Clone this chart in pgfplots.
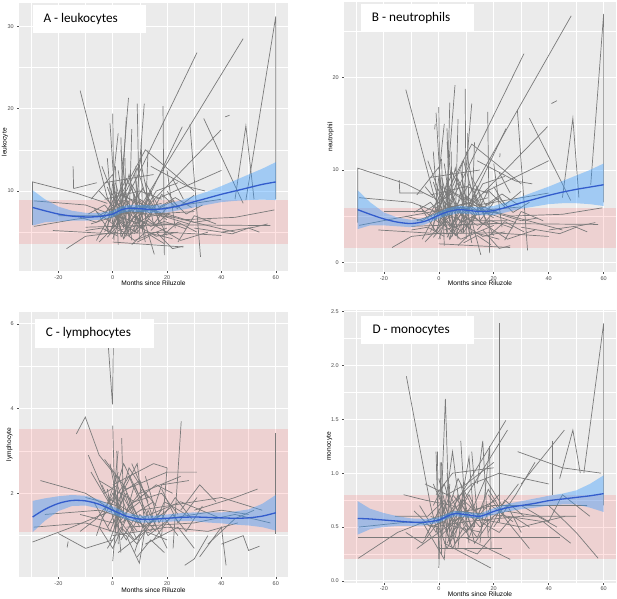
\documentclass[border=0pt]{standalone}
\usepackage{fontspec}
\setmainfont{Liberation Sans}
\newfontfamily\calib{Carlito}
\usepackage{pgfplots}
\pgfplotsset{compat=1.18}
\usepackage{pgfplotstable}

\definecolor{ggbg}{RGB}{235,235,235}
\definecolor{tickgray}{RGB}{77,77,77}
\definecolor{spag}{RGB}{122,122,122}
\definecolor{smblue}{RGB}{51,92,204}
\definecolor{ribblue}{RGB}{51,153,255}

\pgfplotsset{
 ggp/.style={
  scale only axis, anchor=south west,
  xmin=-34.5, xmax=64.5,
  axis background/.style={fill=ggbg},
  axis lines=left, axis line style={draw=none},
  tick align=outside,
  major tick length=2pt,
  minor tick length=0pt,
  major tick style={tickgray, line width=0.5pt},
  grid=both,
  major grid style={white, line width=0.9pt},
  minor grid style={white, line width=0.45pt},
  xtick={-20,0,20,40,60},
  minor xtick={-30,-10,10,30,50},
  tick label style={font=\fontsize{5.5}{6}\selectfont, text=tickgray, inner sep=0pt},
  xticklabel style={anchor=center, yshift=-4.6pt},
  yticklabel style={anchor=east, xshift=-3pt},
  label style={font=\fontsize{6.6}{7}\selectfont},
  xlabel={Months since Riluzole},
  /pgf/number format/assume math mode=true,
 },
 gl/.style={spag, line width=0.7pt, mark=none},
 band/.style={fill=red, fill opacity=0.11, draw=none},
 rib/.style={fill=ribblue, fill opacity=0.4, draw=none},
 fit/.style={smblue, line width=1.3pt, smooth, mark=none},
}

\pgfplotstableread{
x fit
-29.5 8.0
-25 7.6
-20 7.2
-15 6.95
-10 6.85
-5 6.9
0 7.2
3 7.7
6 7.9
10 7.85
15 7.75
20 7.9
25 8.25
30 8.7
35 9.15
40 9.6
45 10.0
50 10.4
55 10.8
60 11.1
}\smA

\pgfplotstableread{
x fit
-29.5 5.7
-25 5.2
-20 4.7
-15 4.35
-10 4.2
-5 4.45
0 5.1
3 5.45
7 5.7
10 5.65
15 5.5
20 5.6
25 6.0
30 6.45
35 6.85
40 7.25
45 7.6
50 7.9
55 8.15
60 8.4
}\smB

\pgfplotstableread{
x fit
-29.5 1.44
-25 1.62
-20 1.76
-15 1.83
-10 1.82
-5 1.74
0 1.60
5 1.46
10 1.39
15 1.39
20 1.41
25 1.43
30 1.44
35 1.43
40 1.42
45 1.41
50 1.42
55 1.46
60 1.54
}\smC

\pgfplotstableread{
x fit
-29.5 0.58
-25 0.575
-20 0.565
-15 0.555
-10 0.545
-5 0.545
0 0.565
3 0.60
6 0.625
10 0.615
15 0.60
20 0.645
25 0.68
30 0.70
35 0.72
40 0.745
45 0.76
50 0.775
55 0.79
60 0.81
}\smD

\newcommand{\pl}[1]{\addplot[gl] coordinates {#1};}

\begin{document}
\begin{tikzpicture}
\fill[white] (0,0) rectangle (617pt,598pt);

% ---------------- A
\begin{axis}[ggp, at={(19pt,327.3pt)}, width=269pt, height=267.7pt,
  ymin=0.32, ymax=32.83, ytick={10,20,30}, minor ytick={5,15,25},
  ylabel={leukocyte},
  xlabel style={at={(axis description cs:0.5,-0.046)},anchor=center},
  ylabel style={at={(axis description cs:-0.052,0.48)},anchor=center}]
\addplot[band] coordinates {(-34.5,3.55) (64.5,3.55) (64.5,8.9) (-34.5,8.9)} -- cycle;
\pl{(-29.5,5.9) (-29.5,11.1) (-13,9.7) (-2,8.5)}
\pl{(-29,5.7) (-15,6.5) (0,7.2) (10,6.0)}
\pl{(-29,8.8) (-10,8.3) (5,6.5)}
\pl{(-17,3.0) (-10,4.5) (2,5)}
\pl{(-12,22.2) (-2,9.2) (3,5.5)}
\pl{(-14.6,13) (-14.4,10.3) (-5.9,11)}
\pl{(-22,5.2) (0,4.8) (20,5.0) (40,4.6)}
\pl{(-10,5.6) (20,5.9) (58,5.8)}
\pl{(-5,3.8) (0,5.5) (5,7)}
\pl{(-1,4.9) (31,26.8)}
\pl{(5,5.3) (48,28.5)}
\pl{(49,8.9) (60,31.2) (60,9)}
\pl{(18.5,20.3) (19,2.2)}
\pl{(9,20.6) (10,4)}
\pl{(11.6,20.6) (8,5)}
\pl{(5.8,21.3) (2,6)}
\pl{(0,19.4) (0.5,4)}
\pl{(-1,18.2) (1,8)}
\pl{(2,17) (-2,5)}
\pl{(5,19) (3,7)}
\pl{(25.6,17.8) (10,7)}
\pl{(28.4,18.1) (32.3,2.0)}
\pl{(33.5,18.8) (48,8.5)}
\pl{(45,9) (49,17.9) (52,9)}
\pl{(39.8,17.4) (8,6.5)}
\pl{(41.4,19) (43,19.2)}
\pl{(-3,11) (15,12)}
\pl{(-6,4) (12,15) (30,10)}
\pl{(14,13) (28,10.5) (34,10)}
\pl{(16,9) (40,12.5)}
\pl{(25,6.5) (45,6.8) (59.5,7.7)}
\pl{(30,5.5) (44,4.8) (50,5.5) (54,5)}
\pl{(40,5) (52,5.6) (57,6)}
\pl{(0,3.8) (26,3.2)}
\pl{(24,3.8) (30,7) (38,6)}
\pl{(12,6) (15.3,2.3)}
\pl{(0,10) (20,7) (45,5)}
\pl{(-3,9) (10,10) (18,9)}
\pl{(2,8) (12,6) (25,6)}
\pl{(-8,6) (6,7.5) (22,6.8)}
\pl{(0,6) (8,4) (20,5.5)}
\pl{(4,9.5) (14,7.2) (30,7.5)}
\pl{(-2,7) (18,8.5)}
\pl{(1,11) (6,5)}
\pl{(8,12) (12,4.5)}
\pl{(-4,13) (4,6)}
\pl{(3,15) (7,4)}
\pl{(10,14) (15,6) (20,8)}
\pl{(12,6.5) (25,4) (35,5)}
\pl{(6,4.5) (16,10) (24,11)}
\pl{(22,11.5) (26,9)}
\pl{(-20,7) (-5,7) (5,9)}
\pl{(-8,9) (0,12) (3,4.5)}
\pl{(0,7) (40,9)}
\pl{(16,5) (22,3) (26,3.3)}
\pl{(-3,5) (2,9) (8,6) (14,7)}
\pl{(0,8.5) (4,4.2) (9,6.8)}
\pl{(-1,6.3) (3,10.5) (7,7)}
\pl{(5,6) (10,9) (18,7) (28,6)}
\pl{(2,5.2) (9,5.8) (16,4.5) (24,5)}
\pl{(-6,7.5) (0,6) (6,8.8)}
\pl{(10,7.3) (14,10) (17,6.2)}
\pl{(7,3.5) (12,5) (22,4.2)}
\pl{(0,4.2) (4,7.8) (12,8.2) (20,6.5)}
\pl{(-2,10.5) (2,6.8) (6,5)}
\pl{(14,5.2) (20,7.2) (30,6.2) (36,6.5)}
\pl{(3,8) (6,12) (9,7.5)}
\pl{(20,10) (24,8) (30,9.5)}
\pl{(-10,5.2) (-4,5.5) (2,4.5)}
\pl{(1,13) (2,3.5)}
\pl{(-7,8) (-1,5) (4,9.5) (10,6.2)}
\pl{(-4,6.6) (1,9.3) (6,4.6) (13,6.5)}
\pl{(-2,4.4) (3,6.2) (9,4.9) (15,8)}
\pl{(0,9.2) (5,7.2) (11,10.3) (16,7.6)}
\pl{(1,5.7) (7,10.8) (13,6.9) (21,7.3)}
\pl{(3,4.4) (8,7) (14,5.7) (19,6.3) (27,5.4)}
\pl{(-5,10) (0,8.2) (5,11.5) (9,8.8)}
\pl{(6,8.2) (11,5.3) (18,9.6) (24,7.8)}
\pl{(8,4.8) (13,9) (20,4.6)}
\pl{(-1,7.8) (4,5.6) (10,7.6) (16,5.8) (22,6)}
\pl{(12,11) (17,8) (23,9.2) (29,8)}
\pl{(15,7.5) (22,8.8) (27,7.2) (33,8.3)}
\pl{(2,12.5) (5,6.2)}
\pl{(4,4.2) (8,9.5) (12,3.8)}
\pl{(-9,7.2) (-3,8.3) (2,6.4)}
\pl{(18,4.5) (24,6.2) (31,5)}
\pl{(20,12.5) (23,5.5)}
\pl{(9,3.8) (14,4.6) (19,3.6)}
\pl{(-12,6.8) (-6,6.2) (0,7.5)}
\pl{(5,10) (9,12.8) (12,9.6)}
\pl{(3,16.5) (4,5.5)}
\pl{(7,17.5) (6,6)}
\pl{(10.5,16) (11,5)}
\pl{(13,15) (12,6.5)}
\pl{(-2,14) (0,6)}
\pl{(4.5,14) (5,4.5)}
\pl{(8.5,13) (9,5)}
\addplot[rib] coordinates {(-29.5,10.1) (-25,9.0) (-20,8.1) (-15,7.6) (-10,7.35) (-5,7.35) (0,7.6) (3,8.1) (6,8.3) (10,8.3) (15,8.25) (20,8.45) (25,8.85) (30,9.4) (35,9.95) (40,10.6) (45,11.3) (50,12.0) (55,12.7) (60,13.5) (60,8.9) (55,8.95) (50,8.9) (45,8.8) (40,8.65) (35,8.35) (30,8.0) (25,7.7) (20,7.4) (15,7.3) (10,7.45) (6,7.5) (3,7.3) (0,6.8) (-5,6.5) (-10,6.4) (-15,6.4) (-20,6.3) (-25,6.2) (-29.5,5.8)} -- cycle;
\addplot[fit] table[x=x,y=fit] {\smA};
\end{axis}

% ---------------- B
\begin{axis}[ggp, at={(344pt,326.3pt)}, width=272pt, height=269.7pt,
  ymin=-1.02, ymax=28.2, ytick={0,10,20}, minor ytick={5,15,25},
  ylabel={neutrophil},
  xlabel style={at={(axis description cs:0.5,-0.043)},anchor=center},
  ylabel style={at={(axis description cs:-0.049,0.5)},anchor=center}]
\addplot[band] coordinates {(-34.5,1.52) (64.5,1.52) (64.5,5.85) (-34.5,5.85)} -- cycle;
\pl{(-29.5,4.3) (-29.5,10.2) (-12,8.5) (-2,7)}
\pl{(-29,4.0) (-15,4.8) (0,5.6) (10,4.3)}
\pl{(-29,7.0) (-10,6.5) (5,4.8)}
\pl{(-17,1.6) (-10,2.8) (2,3.2)}
\pl{(-12,18.7) (-2,7.5) (3,3.8)}
\pl{(-14.4,8.9) (-14.2,7.5) (-5.8,7.5)}
\pl{(-22,3.5) (0,3.1) (20,3.2) (40,2.8)}
\pl{(-10,3.9) (20,4.2) (58,4.1)}
\pl{(-5,2.2) (0,3.8) (5,5.3)}
\pl{(-1,3.2) (31,22.6)}
\pl{(4,3.6) (48.2,26.7)}
\pl{(55.3,8.4) (60,26.9) (60,6.5)}
\pl{(17.8,16.3) (18.5,1.0)}
\pl{(9.6,18.8) (10,2.5)}
\pl{(12,17.2) (8,3.5)}
\pl{(5.9,19.2) (2,4.3)}
\pl{(0,16.8) (0.5,2.5)}
\pl{(-1,16.2) (1,6.3)}
\pl{(2,15) (-2,3.5)}
\pl{(4,17.3) (3,5.3)}
\pl{(24.5,14.5) (10,5.5)}
\pl{(28.6,16.5) (32.3,1.3)}
\pl{(33,15.6) (48,6.7)}
\pl{(45,7) (48.8,15.6) (51,7)}
\pl{(39.6,14.7) (8,5)}
\pl{(41,17.2) (43,17.5)}
\pl{(-3,9.2) (15,10)}
\pl{(-6,2.5) (12,12.8) (30,8.5)}
\pl{(14,11) (28,8.8) (34,8.5)}
\pl{(16,7.5) (40,11)}
\pl{(25,5) (45,5.2) (59.5,5.9)}
\pl{(30,3.8) (44,3.1) (50,3.8) (54,3.3)}
\pl{(40,3.5) (52,4) (57,4.3)}
\pl{(0,2.0) (26,1.6)}
\pl{(24,2.4) (30,5.5) (38,4.5)}
\pl{(12,4.5) (15.3,0.8)}
\pl{(0,8.3) (20,5.5) (45,3.5)}
\pl{(-3,7.3) (10,8.2) (18,7.5)}
\pl{(2,6.5) (12,4.5) (25,4.5)}
\pl{(-8,4.5) (6,6) (22,5.3)}
\pl{(0,4.5) (8,2.5) (20,4)}
\pl{(4,7.8) (14,5.6) (30,6)}
\pl{(-2,5.5) (18,7)}
\pl{(1,9.2) (6,3.5)}
\pl{(8,10) (12,3)}
\pl{(-4,11) (4,4.5)}
\pl{(3,13) (7,2.5)}
\pl{(10,12) (15,4.5) (20,6.5)}
\pl{(12,5) (25,2.5) (35,3.5)}
\pl{(6,3) (16,8.5) (24,9.3)}
\pl{(22,9.7) (26,7.5)}
\pl{(-20,5.5) (-5,5.5) (5,7.5)}
\pl{(-8,7.3) (0,10.3) (3,3)}
\pl{(0,5.5) (40,7.5)}
\pl{(16,3.5) (22,1.5) (26,1.8)}
\pl{(-3,3.3) (2,7.2) (8,4.3) (14,5.2)}
\pl{(0,6.7) (4,2.5) (9,5)}
\pl{(-1,4.6) (3,8.7) (7,5.3)}
\pl{(5,4.3) (10,7.2) (18,5.3) (28,4.3)}
\pl{(2,3.5) (9,4.1) (16,2.8) (24,3.3)}
\pl{(-6,5.7) (0,4.3) (6,7)}
\pl{(10,5.5) (14,8.2) (17,4.5)}
\pl{(7,1.8) (12,3.3) (22,2.5)}
\pl{(0,2.5) (4,6) (12,6.4) (20,4.8)}
\pl{(-2,8.7) (2,5) (6,3.3)}
\pl{(14,3.5) (20,5.4) (30,4.5) (36,4.8)}
\pl{(3,6.2) (6,10.2) (9,5.8)}
\pl{(20,8.2) (24,6.2) (30,7.7)}
\pl{(-10,3.5) (-4,3.8) (2,2.8)}
\pl{(1,11.2) (2,1.8)}
\pl{(-1.5,14.4) (-1.3,15.0)}
\pl{(22.2,11.4) (22.3,11.8)}
\pl{(-7,6.2) (-1,3.3) (4,7.7) (10,4.4)}
\pl{(-4,4.8) (1,7.5) (6,2.9) (13,4.8)}
\pl{(-2,2.7) (3,4.4) (9,3.2) (15,6.2)}
\pl{(0,7.4) (5,5.4) (11,8.5) (16,5.8)}
\pl{(1,4) (7,9) (13,5.1) (21,5.5)}
\pl{(3,2.7) (8,5.2) (14,4) (19,4.5) (27,3.7)}
\pl{(-5,8.2) (0,6.4) (5,9.7) (9,7)}
\pl{(6,6.4) (11,3.6) (18,7.8) (24,6)}
\pl{(8,3.1) (13,7.2) (20,2.9)}
\pl{(-1,6) (4,3.9) (10,5.8) (16,4.1) (22,4.2)}
\pl{(12,9.2) (17,6.2) (23,7.4) (29,6.2)}
\pl{(15,5.7) (22,7) (27,5.4) (33,6.5)}
\pl{(2,10.7) (5,4.4)}
\pl{(4,2.5) (8,7.7) (12,2.1)}
\pl{(-9,5.4) (-3,6.5) (2,4.7)}
\pl{(18,2.8) (24,4.4) (31,3.3)}
\pl{(20,10.7) (23,3.8)}
\pl{(9,2.1) (14,2.9) (19,1.9)}
\pl{(-12,5) (-6,4.5) (0,5.7)}
\pl{(5,8.2) (9,11) (12,7.8)}
\pl{(3,14.5) (4,3.8)}
\pl{(7,15.5) (6,4.2)}
\pl{(10.5,14) (11,3.3)}
\pl{(13,13) (12,4.7)}
\pl{(-2,12) (0,4.2)}
\pl{(4.5,12) (5,2.8)}
\pl{(8.5,11) (9,3.2)}
\addplot[rib] coordinates {(-29.5,7.8) (-25,6.5) (-20,5.4) (-15,4.85) (-10,4.6) (-5,4.8) (0,5.45) (3,5.85) (7,6.1) (10,6.05) (15,5.95) (20,6.1) (25,6.55) (30,7.1) (35,7.65) (40,8.2) (45,8.8) (50,9.4) (55,10.0) (60,10.7) (60,6.1) (55,6.3) (50,6.4) (45,6.4) (40,6.3) (35,6.05) (30,5.8) (25,5.45) (20,5.1) (15,5.1) (10,5.25) (7,5.3) (3,5.05) (0,4.75) (-5,4.1) (-10,3.8) (-15,3.9) (-20,4.0) (-25,4.0) (-29.5,3.6)} -- cycle;
\addplot[fit] table[x=x,y=fit] {\smB};
\end{axis}

% ---------------- C
\begin{axis}[ggp, at={(19pt,21pt)}, width=269pt, height=265pt,
  ymin=0.023, ymax=6.28, ytick={2,4,6}, minor ytick={1,3,5},
  ylabel={lymphocyte},
  xlabel style={at={(axis description cs:0.5,-0.049)},anchor=center},
  ylabel style={at={(axis description cs:-0.036,0.5)},anchor=center}]
\addplot[band] coordinates {(-34.5,1.09) (64.5,1.09) (64.5,3.51) (-34.5,3.51)} -- cycle;
\pl{(-29.5,0.85) (-15,1.2) (0,1.6)}
\pl{(-26.6,2.3) (-10,2.0) (0,1.6)}
\pl{(-29,1.2) (-10,1.3) (5,1.0)}
\pl{(-25,1.5) (-5,1.6) (10,1.3)}
\pl{(-13.4,3.4) (-10.1,3.8) (-5,2.9) (0,2.5)}
\pl{(-16.8,0.72) (-16.4,0.86)}
\pl{(-20,1.05) (-10,0.7) (0,0.9)}
\pl{(-1.6,5.45) (-0.1,4.1) (0.2,5.5)}
\pl{(0,3.6) (1,1.2)}
\pl{(1.5,3.0) (2,0.8)}
\pl{(3.3,3.3) (4,1.5)}
\pl{(-3,2.8) (5,2.1) (20,2.5) (31,2.5)}
\pl{(0,2.2) (15,2.7) (20,2.6)}
\pl{(22.2,0.7) (25.2,3.7)}
\pl{(60,1.05) (60,3.42)}
\pl{(26.5,0.3) (30,0.45) (35,1.0)}
\pl{(32,0.5) (40,1.2) (41.7,0.3)}
\pl{(40,0.8) (48,1.0) (50,0.65) (54,0.75)}
\pl{(30,1.6) (45,1.9) (53.3,2.1)}
\pl{(10,1.6) (40,1.9) (55,1.6)}
\pl{(5,1.2) (30,1.3) (45,1.5) (58,1.3)}
\pl{(-5,2.3) (8,1.8) (18,2.0) (24,1.5)}
\pl{(2,0.6) (12,1.1) (20,0.9)}
\pl{(5,1.0) (9.8,0.35) (12,1.2)}
\pl{(-8,2.5) (3,1.3) (15,1.8)}
\pl{(-4,1.4) (6,2.4) (12,1.5)}
\pl{(-2,1.9) (10,1.4) (25,1.8) (40,1.4)}
\pl{(1,2.0) (3,0.6)}
\pl{(0,1.0) (20,1.2) (35,1.1) (46,1.3)}
\pl{(-10,1.9) (2,1.7) (8,1.1)}
\pl{(18,1.0) (20,2.6)}
\pl{(14,1.4) (18,2.2) (28,2.3)}
\pl{(7,2.7) (13,1.8)}
\pl{(-1,2.7) (4,1.0)}
\pl{(3,2.0) (10,2.3) (16,1.2)}
\pl{(25,1.6) (32,2.2) (38,1.8)}
\pl{(35,0.8) (45,1.4) (52,1.6)}
\pl{(12,0.8) (24,1.2) (30,0.7)}
\pl{(-6,1.0) (2,2.5)}
\pl{(0,1.8) (2,3.0)}
\pl{(20,1.4) (40,1.6) (50,1.5)}
\pl{(2,1.4) (8,0.9) (18,1.6)}
\pl{(-2,1.2) (5,2.0) (9,1.3)}
\pl{(10,2.0) (25,2.4)}
\pl{(-12,1.5) (0,1.3) (10,1.8)}
\pl{(-2,2.1) (1,1.1) (4,2.2) (8,1.6)}
\pl{(0,1.4) (5,0.9) (10,1.5) (16,1.1)}
\pl{(2,2.4) (6,1.7) (12,2.0)}
\pl{(-1,0.9) (3,1.6) (9,1.1)}
\pl{(4,1.3) (8,2.2) (14,1.3) (22,1.7)}
\pl{(1,1.7) (9,2.7) (12,1.2)}
\pl{(-3,1.6) (0,2.0) (6,1.3)}
\pl{(0,0.4) (2,1.9)}
\pl{(-7,1.8) (-1,1.1) (4,1.9) (10,1.2)}
\pl{(-4,2.2) (1,1.5) (6,2.6) (13,1.9)}
\pl{(-2,0.7) (3,1.2) (9,0.8) (15,1.4)}
\pl{(0,2.5) (5,1.6) (11,2.1) (16,1.7)}
\pl{(1,1.2) (7,1.7) (13,1.0) (21,1.4)}
\pl{(3,0.9) (8,1.4) (14,1.1) (19,1.8) (27,1.5)}
\pl{(-5,1.2) (0,0.7) (5,1.4) (9,0.9)}
\pl{(6,1.9) (11,1.2) (18,1.5) (24,1.0)}
\pl{(8,0.6) (13,1.6) (20,0.7)}
\pl{(-1,1.6) (4,2.7) (10,1.9) (16,2.2) (22,2.0)}
\pl{(12,2.4) (17,1.3) (23,1.9) (29,1.4)}
\pl{(15,0.9) (22,1.5) (27,1.1) (33,1.7)}
\pl{(-9,2.9) (-3,2.0) (2,2.2)}
\pl{(18,2.1) (24,1.3) (31,1.9)}
\pl{(9,0.5) (14,0.9) (19,0.6)}
\pl{(-12,1.1) (-6,1.4) (0,1.9)}
\addplot[rib] coordinates {(-29.5,1.82) (-25,1.88) (-20,1.93) (-15,1.96) (-10,1.94) (-5,1.85) (0,1.69) (5,1.54) (10,1.47) (15,1.47) (20,1.50) (25,1.53) (30,1.55) (35,1.55) (40,1.55) (45,1.57) (50,1.62) (55,1.75) (60,1.96) (60,1.12) (55,1.20) (50,1.24) (45,1.26) (40,1.29) (35,1.31) (30,1.34) (25,1.34) (20,1.33) (15,1.31) (10,1.31) (5,1.38) (0,1.51) (-5,1.64) (-10,1.71) (-15,1.70) (-20,1.58) (-25,1.35) (-29.5,1.08)} -- cycle;
\addplot[fit] table[x=x,y=fit] {\smC};
\end{axis}

% ---------------- D
\begin{axis}[ggp, at={(344pt,15.5pt)}, width=272pt, height=272.5pt,
  ymin=-0.015, ymax=2.515, ytick={0,0.5,1,1.5,2,2.5},
  minor ytick={0.25,0.75,1.25,1.75,2.25},
  yticklabel style={/pgf/number format/fixed, /pgf/number format/fixed zerofill, /pgf/number format/precision=1},
  xticklabel style={yshift=0.4pt},
  ylabel={monocyte},
  xlabel style={at={(axis description cs:0.5,-0.0435)},anchor=center},
  ylabel style={at={(axis description cs:-0.054,0.5)},anchor=center}]
\addplot[band] coordinates {(-34.5,0.2) (64.5,0.2) (64.5,0.8) (-34.5,0.8)} -- cycle;
\pl{(-29.3,0.4) (44,0.4)}
\pl{(0,0.3) (23,0.3)}
\pl{(-29.3,0.21) (-15,0.45) (0,0.6)}
\pl{(-29,0.5) (-10,0.55) (0,0.5)}
\pl{(-11.8,1.9) (-3,0.7) (0,0.4)}
\pl{(-12.8,0.8) (-5,0.75) (5,0.7)}
\pl{(0,0.12) (2.4,1.69) (4,0.4)}
\pl{(2,0.35) (18.9,0.12)}
\pl{(22,0.55) (22,2.39)}
\pl{(52.8,1.0) (60,2.39) (60,0.7)}
\pl{(2,0.55) (24.4,1.49)}
\pl{(3,0.5) (25,1.4)}
\pl{(30,0.9) (45.7,1.4)}
\pl{(44,0.95) (48.8,1.4) (51.5,1.0)}
\pl{(28.7,1.2) (45,1.05) (59.1,1.0)}
\pl{(41.5,1.3) (41.5,0.8)}
\pl{(40,0.7) (50,0.45) (58,0.21)}
\pl{(-1,1.2) (0,0.3)}
\pl{(1,1.1) (1.5,0.4)}
\pl{(8,1.3) (10,0.5)}
\pl{(12,1.2) (14,0.6)}
\pl{(-5,0.9) (3,0.8) (10,0.9) (20,1.1)}
\pl{(5,0.8) (15,0.5) (25,0.7) (30,0.45)}
\pl{(0,0.6) (20,0.7) (40,0.7) (54,0.7)}
\pl{(-2,0.5) (10,0.55) (30,0.6) (50,0.6)}
\pl{(5,0.65) (25,0.6) (38,0.55) (48,0.35)}
\pl{(10,0.4) (18,0.3) (26,0.2)}
\pl{(18,0.8) (25,0.55) (33,0.3)}
\pl{(0,0.95) (5,0.45) (12,0.7)}
\pl{(-8,0.3) (0,0.45) (8,0.6)}
\pl{(15,0.35) (18.5,1.25) (19,0.3)}
\pl{(20,0.5) (28,0.8) (35,1.1)}
\pl{(4,0.7) (12,0.9) (22,1.0) (40,0.9)}
\pl{(-3,0.6) (6,0.5) (16,0.45)}
\pl{(7,0.3) (9,0.85) (11,0.35)}
\pl{(-1,0.8) (5,1.0) (20,1.05)}
\pl{(30,0.7) (40,0.55) (45,0.8) (55,0.6)}
\pl{(0,0.4) (10,0.65) (18,0.55)}
\pl{(-6,0.55) (2,0.2) (4,0.9)}
\pl{(24,0.65) (36,0.6) (43,0.5)}
\pl{(14,0.9) (16,1.3) (18,0.4)}
\pl{(10,0.6) (30,0.5) (46,0.6)}
\pl{(-16,0.6) (-4,0.6) (2,0.75)}
\pl{(3,1.0) (6,0.3)}
\pl{(1,0.75) (4,0.35) (8,0.75)}
\pl{(-2,0.7) (2,0.9) (6,0.55)}
\pl{(3,0.45) (7,0.8) (12,0.5) (16,0.7)}
\pl{(0,0.5) (3,0.3) (9,0.6)}
\pl{(2,0.65) (5,1.2) (8,0.6)}
\pl{(6,0.4) (11,1.15) (13,0.5)}
\pl{(-0.5,1.2) (0,0.2)}
\pl{(0.5,1.1) (1,0.25)}
\pl{(-7,0.7) (-1,0.45) (4,0.8) (10,0.5)}
\pl{(-4,0.45) (1,0.7) (6,0.35) (13,0.55)}
\pl{(-2,0.9) (3,0.6) (9,0.75) (15,0.6)}
\pl{(0,0.8) (5,0.55) (11,0.8) (16,0.5)}
\pl{(1,0.45) (7,0.95) (13,0.65) (21,0.75)}
\pl{(3,0.35) (8,0.6) (14,0.4) (19,0.7) (27,0.55)}
\pl{(-5,0.4) (0,0.65) (5,0.3) (9,0.5)}
\pl{(6,0.7) (11,0.4) (18,0.85) (24,0.6)}
\pl{(8,0.9) (13,0.35) (20,0.6)}
\pl{(-1,0.55) (4,0.6) (10,0.45) (16,0.65) (22,0.8)}
\pl{(12,0.65) (17,0.95) (23,0.7) (29,0.9)}
\pl{(15,0.55) (22,0.45) (27,0.6) (33,0.5)}
\pl{(-9,0.65) (-3,0.5) (2,0.55)}
\pl{(18,0.45) (24,0.75) (31,0.6)}
\pl{(9,0.3) (14,0.25) (19,0.4)}
\pl{(-12,0.45) (-6,0.35) (0,0.55)}
\addplot[rib] coordinates {(-29.5,0.74) (-25,0.67) (-20,0.63) (-15,0.60) (-10,0.58) (-5,0.575) (0,0.59) (3,0.625) (6,0.65) (10,0.64) (15,0.625) (20,0.675) (25,0.715) (30,0.74) (35,0.765) (40,0.79) (45,0.81) (50,0.84) (55,0.90) (60,0.98) (60,0.64) (55,0.68) (50,0.71) (45,0.71) (40,0.70) (35,0.68) (30,0.665) (25,0.645) (20,0.615) (15,0.575) (10,0.59) (6,0.60) (3,0.575) (0,0.54) (-5,0.515) (-10,0.51) (-15,0.51) (-20,0.50) (-25,0.48) (-29.5,0.43)} -- cycle;
\addplot[fit] table[x=x,y=fit] {\smD};
\end{axis}

% panel labels
\fill[white] (33pt,565pt) rectangle (146pt,593pt);
\node[anchor=west, inner sep=0pt, font=\calib\fontsize{13.2}{14}\selectfont] at (43.3pt,579pt) {A - leukocytes};
\fill[white] (360.7pt,566pt) rectangle (474pt,594pt);
\node[anchor=west, inner sep=0pt, font=\calib\fontsize{13.2}{14}\selectfont] at (371.7pt,580pt) {B - neutrophils};
\fill[white] (35pt,250.3pt) rectangle (154pt,279pt);
\node[anchor=west, inner sep=0pt, font=\calib\fontsize{13.2}{14}\selectfont] at (45.7pt,264.7pt) {C - lymphocytes};
\fill[white] (360.7pt,253.7pt) rectangle (474pt,282pt);
\node[anchor=west, inner sep=0pt, font=\calib\fontsize{13.2}{14}\selectfont] at (372.3pt,267.3pt) {D - monocytes};
\pgfresetboundingbox
\useasboundingbox (0,0) rectangle (617pt,598pt);
\end{tikzpicture}
\end{document}
